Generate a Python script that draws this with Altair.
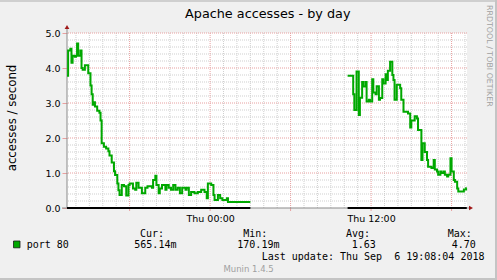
import altair as alt
import pandas as pd

# ---------------- data ----------------
left_times = [
    "2018-09-05T13:20", "2018-09-05T13:25", "2018-09-05T13:35", "2018-09-05T13:40",
    "2018-09-05T13:45", "2018-09-05T13:55", "2018-09-05T14:00", "2018-09-05T14:05",
    "2018-09-05T14:10", "2018-09-05T14:20", "2018-09-05T14:25", "2018-09-05T14:30",
    "2018-09-05T14:40", "2018-09-05T14:50", "2018-09-05T14:55", "2018-09-05T15:05",
    "2018-09-05T15:10", "2018-09-05T15:15", "2018-09-05T15:20", "2018-09-05T15:25",
    "2018-09-05T15:35", "2018-09-05T15:45", "2018-09-05T15:50", "2018-09-05T15:55",
    "2018-09-05T16:05", "2018-09-05T16:15", "2018-09-05T16:25", "2018-09-05T16:30",
    "2018-09-05T16:40", "2018-09-05T16:50", "2018-09-05T16:55", "2018-09-05T17:05",
    "2018-09-05T17:10", "2018-09-05T17:15", "2018-09-05T17:25", "2018-09-05T17:35",
    "2018-09-05T17:45", "2018-09-05T17:55", "2018-09-05T18:00", "2018-09-05T18:15",
    "2018-09-05T18:25", "2018-09-05T18:30", "2018-09-05T18:40", "2018-09-05T18:55",
    "2018-09-05T19:10", "2018-09-05T19:20", "2018-09-05T19:40", "2018-09-05T19:45",
    "2018-09-05T19:55", "2018-09-05T20:00", "2018-09-05T20:10", "2018-09-05T20:15",
    "2018-09-05T20:25", "2018-09-05T20:40", "2018-09-05T20:45", "2018-09-05T20:55",
    "2018-09-05T21:05", "2018-09-05T21:15", "2018-09-05T21:25", "2018-09-05T21:35",
    "2018-09-05T21:45", "2018-09-05T21:55", "2018-09-05T22:10", "2018-09-05T22:15",
    "2018-09-05T22:25", "2018-09-05T22:35", "2018-09-05T22:50", "2018-09-05T23:05",
    "2018-09-05T23:20", "2018-09-05T23:35", "2018-09-05T23:45", "2018-09-05T23:50",
    "2018-09-06T00:05", "2018-09-06T00:15", "2018-09-06T00:20", "2018-09-06T00:35",
    "2018-09-06T00:45", "2018-09-06T00:55", "2018-09-06T01:05", "2018-09-06T01:15",
    "2018-09-06T01:20", "2018-09-06T03:00",
]
left_values = [
    3.78, 4.50, 4.55, 4.15, 4.35, 4.32, 4.35, 4.70, 4.35, 4.50, 4.00, 3.95,
    4.08, 4.08, 3.85, 3.50, 3.25, 2.95, 3.02, 2.90, 2.78, 2.72, 2.50, 1.85,
    1.75, 1.70, 1.62, 1.50, 1.30, 1.05, 0.94, 0.70, 0.51, 0.37, 0.66, 0.62,
    0.36, 0.66, 0.70, 0.56, 0.52, 0.72, 0.58, 0.42, 0.58, 0.62, 0.58, 0.80,
    0.92, 0.66, 0.42, 0.56, 0.66, 0.52, 0.66, 0.58, 0.52, 0.66, 0.52, 0.58,
    0.42, 0.58, 0.52, 0.58, 0.37, 0.46, 0.42, 0.46, 0.52, 0.46, 0.28, 0.70,
    0.66, 0.37, 0.23, 0.37, 0.28, 0.23, 0.23, 0.28, 0.17, 0.17,
]
right_times = [
    "2018-09-06T10:15", "2018-09-06T10:40", "2018-09-06T10:45", "2018-09-06T10:55",
    "2018-09-06T11:05", "2018-09-06T11:10", "2018-09-06T11:20", "2018-09-06T11:25",
    "2018-09-06T11:35", "2018-09-06T11:40", "2018-09-06T11:50", "2018-09-06T11:55",
    "2018-09-06T12:05", "2018-09-06T12:10", "2018-09-06T12:20", "2018-09-06T12:25",
    "2018-09-06T12:35", "2018-09-06T12:40", "2018-09-06T12:50", "2018-09-06T12:55",
    "2018-09-06T13:05", "2018-09-06T13:10", "2018-09-06T13:15", "2018-09-06T13:25",
    "2018-09-06T13:35", "2018-09-06T13:40", "2018-09-06T13:45", "2018-09-06T13:55",
    "2018-09-06T14:10", "2018-09-06T14:15", "2018-09-06T14:25", "2018-09-06T14:45",
    "2018-09-06T14:55", "2018-09-06T15:00", "2018-09-06T15:15", "2018-09-06T15:25",
    "2018-09-06T15:30", "2018-09-06T15:45", "2018-09-06T15:50", "2018-09-06T16:00",
    "2018-09-06T16:10", "2018-09-06T16:15", "2018-09-06T16:30", "2018-09-06T16:40",
    "2018-09-06T16:45", "2018-09-06T16:55", "2018-09-06T17:00", "2018-09-06T17:10",
    "2018-09-06T17:15", "2018-09-06T17:25", "2018-09-06T17:30", "2018-09-06T17:40",
    "2018-09-06T17:45", "2018-09-06T17:55", "2018-09-06T18:00", "2018-09-06T18:10",
    "2018-09-06T18:15", "2018-09-06T18:25", "2018-09-06T18:30", "2018-09-06T18:55",
    "2018-09-06T19:05", "2018-09-06T19:08",
]
right_values = [
    3.78, 3.25, 2.80, 3.90, 2.66, 3.15, 3.60, 3.47, 3.60, 3.04, 3.09, 3.04,
    3.68, 3.30, 3.25, 3.48, 3.09, 3.14, 3.68, 3.56, 3.82, 3.66, 3.92, 4.18,
    3.80, 3.66, 3.09, 3.52, 3.42, 3.09, 2.75, 2.70, 2.30, 2.50, 2.62, 2.56,
    2.23, 1.37, 1.85, 1.60, 1.37, 1.18, 1.14, 1.37, 1.10, 1.04, 0.95, 1.04,
    1.00, 1.04, 0.95, 0.90, 0.95, 1.42, 1.04, 0.80, 0.75, 0.56, 0.47, 0.53,
    0.565, 0.565,
]

series_name = "port 80"
legend_heads = ["Cur:", "Min:", "Avg:", "Max:"]
legend_vals = ["565.14m", "170.19m", "1.63", "4.70"]
title_text = "Apache accesses - by day"
y_title = "accesses / second"
last_update = "Last update: Thu Sep \u00a06 19:08:04 2018"
footer = "Munin 1.4.5"
watermark = "RRDTOOL / TOBI OETIKER"

x_start = alt.DateTime(year=2018, month=9, date=5, hours=13, minutes=20)
x_end = alt.DateTime(year=2018, month=9, date=6, hours=19, minutes=9)
major_times = ["2018-09-05T18:00", "2018-09-06T00:00", "2018-09-06T06:00",
               "2018-09-06T12:00", "2018-09-06T18:00"]
label_times = [alt.DateTime(year=2018, month=9, date=6, hours=0),
               alt.DateTime(year=2018, month=9, date=6, hours=12)]
minor_times = ["2018-09-05T14:00", "2018-09-05T15:00", "2018-09-05T16:00", "2018-09-05T17:00",
               "2018-09-05T19:00", "2018-09-05T20:00", "2018-09-05T21:00", "2018-09-05T22:00",
               "2018-09-05T23:00", "2018-09-06T01:00", "2018-09-06T02:00", "2018-09-06T03:00",
               "2018-09-06T04:00", "2018-09-06T05:00", "2018-09-06T07:00", "2018-09-06T08:00",
               "2018-09-06T09:00", "2018-09-06T10:00", "2018-09-06T11:00", "2018-09-06T13:00",
               "2018-09-06T14:00", "2018-09-06T15:00", "2018-09-06T16:00", "2018-09-06T17:00",
               "2018-09-06T19:00"]
y_major = [1.0, 2.0, 3.0, 4.0, 5.0]
y_minor = [0.2, 0.4, 0.6, 0.8, 1.2, 1.4, 1.6, 1.8, 2.2, 2.4, 2.6, 2.8,
           3.2, 3.4, 3.6, 3.8, 4.2, 4.4, 4.6, 4.8]
y_ticks = [0.0, 1.0, 2.0, 3.0, 4.0, 5.0]

# ---------------- styling ----------------
W, H = 400, 175
GREEN = "#00A800"
MINOR = "#CFCFCF"
MAJOR = "#E8A0A0"
SANS = "DejaVu Sans"
MONO = "DejaVu Sans Mono"

df_line = pd.DataFrame({
    "t": left_times + right_times,
    "v": left_values + right_values,
    "seg": ["a"] * len(left_times) + ["b"] * len(right_times),
})
df_zero = pd.DataFrame({
    "t": [left_times[0], right_times[0]],
    "end": [left_times[-1], right_times[-1]],
    "v": [0, 0],
})
one = pd.DataFrame({"k": [0]})

xs = alt.Scale(domain=[x_start, x_end])
ys = alt.Scale(domain=[0, 5], nice=False)

x_axis = alt.Axis(
    values=label_times, grid=False, domain=False, ticks=False,
    labelPadding=5, labelFont=SANS, labelFontSize=9.5,
    labelColor="black", title=None, format="%a %H:%M",
)
y_axis = alt.Axis(
    values=y_ticks, format=".1f", grid=False, domain=False, tickSize=5,
    tickColor=MAJOR, labelPadding=2, labelFont=SANS, labelFontSize=9.5,
    labelColor="black", title=None,
)
X = alt.X("t:T", scale=xs, axis=x_axis)
Y = alt.Y("v:Q", scale=ys, axis=y_axis)

minor_v = alt.Chart(pd.DataFrame({"t": minor_times})).mark_rule(
    color=MINOR, strokeDash=[1, 1], strokeWidth=1
).encode(x=X)
major_v = alt.Chart(pd.DataFrame({"t": major_times})).mark_rule(
    color=MAJOR, strokeDash=[1, 1], strokeWidth=1
).encode(x=X)
major_tick = alt.Chart(pd.DataFrame({"t": major_times})).mark_rule(
    color=MAJOR, strokeWidth=1
).encode(x=X, y=alt.value(H), y2=alt.value(H + 3))
minor_h = alt.Chart(pd.DataFrame({"v": y_minor})).mark_rule(
    color=MINOR, strokeDash=[1, 1], strokeWidth=1
).encode(y=Y)
major_h = alt.Chart(pd.DataFrame({"v": y_major})).mark_rule(
    color=MAJOR, strokeDash=[1, 1], strokeWidth=1
).encode(y=Y)

axis_y_line = alt.Chart(one).mark_rule(color="#8a8a8a", strokeWidth=1).encode(
    x=alt.value(0), y=alt.value(-5), y2=alt.value(H))
axis_x_line = alt.Chart(one).mark_rule(color="#8a8a8a", strokeWidth=1).encode(
    x=alt.value(-5), x2=alt.value(W + 3), y=alt.value(H))
arrow_up = alt.Chart(one).mark_point(shape="triangle-up", filled=True, size=22,
                                     color="#A01818", opacity=1).encode(
    x=alt.value(0), y=alt.value(-6))
arrow_right = alt.Chart(one).mark_point(shape="triangle-right", filled=True, size=22,
                                        color="#A01818", opacity=1).encode(
    x=alt.value(W + 4), y=alt.value(H))

zero_line = alt.Chart(df_zero).mark_rule(color="black", strokeWidth=2).encode(
    x=X, x2="end:T", y=Y)

line = alt.Chart(df_line).mark_line(
    interpolate="step-after", color=GREEN, strokeWidth=2
).encode(x=X, y=Y, detail="seg:N")


def txt(s, x, y, **kw):
    return alt.Chart(one).mark_text(text=s, **kw).encode(x=alt.value(x), y=alt.value(y))


texts = [
    txt(title_text, 118, -15, font=SANS, fontSize=12.8, align="left",
        baseline="alphabetic", color="black"),
    txt(y_title, -55.5, 85, font=SANS, fontSize=11.8, angle=270, align="center",
        baseline="middle", color="black"),
    txt(watermark, 421.5, -28, font=SANS, fontSize=7.9, angle=90, align="left",
        baseline="middle", color="#A0A0A0"),
    txt(series_name, -40.3, 215.3, font=MONO, fontSize=10, align="left",
        baseline="alphabetic", color="black"),
    txt(legend_heads[0], 73, 203.7, font=MONO, fontSize=10, align="left", baseline="alphabetic"),
    txt(legend_vals[0], 67.3, 215.3, font=MONO, fontSize=10, align="left", baseline="alphabetic"),
    txt(legend_heads[1], 176.3, 203.7, font=MONO, fontSize=10, align="left", baseline="alphabetic"),
    txt(legend_vals[1], 170.3, 215.3, font=MONO, fontSize=10, align="left", baseline="alphabetic"),
    txt(legend_heads[2], 279, 203.7, font=MONO, fontSize=10, align="left", baseline="alphabetic"),
    txt(legend_vals[2], 284.7, 215.3, font=MONO, fontSize=10, align="left", baseline="alphabetic"),
    txt(legend_heads[3], 380.7, 203.7, font=MONO, fontSize=10, align="left", baseline="alphabetic"),
    txt(legend_vals[3], 384.7, 215.3, font=MONO, fontSize=10, align="left", baseline="alphabetic"),
    txt(last_update, 194.7, 227, font=MONO, fontSize=10, align="left", baseline="alphabetic"),
    txt(footer, 181.6, 239, font=SANS, fontSize=8.5, align="center",
        baseline="alphabetic", color="#A0A0A0"),
]

legend_box = alt.Chart(one).mark_rect(fill=GREEN, stroke="#1a1a1a", strokeWidth=0.8).encode(
    x=alt.value(-53.5), x2=alt.value(-47), y=alt.value(208), y2=alt.value(214.8))

border_top = alt.Chart(one).mark_rule(color="#CFCFCF", strokeWidth=2).encode(
    x=alt.value(-67), x2=alt.value(430), y=alt.value(-32))
border_right = alt.Chart(one).mark_rule(color="#C4C4C4", strokeWidth=2).encode(
    x=alt.value(429), y=alt.value(-33), y2=alt.value(247))
border_bottom = alt.Chart(one).mark_rule(color="#C4C4C4", strokeWidth=2).encode(
    x=alt.value(-67), x2=alt.value(430), y=alt.value(246))

chart = alt.layer(
    minor_v, minor_h, major_v, major_h, major_tick, axis_x_line, axis_y_line,
    zero_line, line, arrow_up, arrow_right, legend_box,
    border_top, border_right, border_bottom, *texts,
).properties(
    width=W, height=H,
    autosize=alt.AutoSizeParams(type="none"),
    padding={"left": 67, "top": 33, "right": 30, "bottom": 72},
    background="#F0F0F0",
).configure_view(fill="white", stroke=None)

chart.save("out.html", embed_options={"renderer": "svg", "actions": False})
